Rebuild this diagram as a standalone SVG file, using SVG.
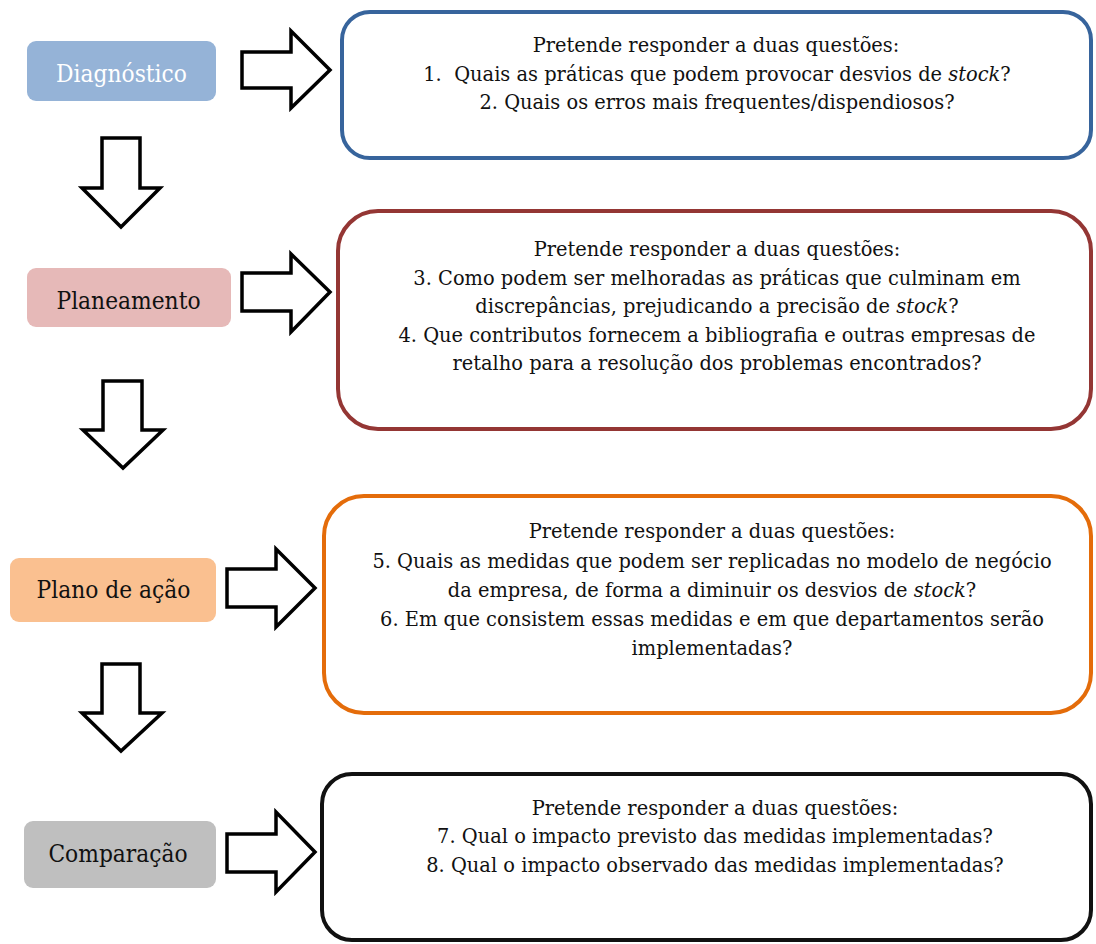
<svg xmlns="http://www.w3.org/2000/svg" width="1096" height="944" viewBox="0 0 1096 944">
<style>
.lbl{font-family:'DejaVu Serif','Liberation Serif',serif;font-size:24.5px;text-anchor:middle;fill:#111}
.q{font-family:'DejaVu Serif','Liberation Serif',serif;font-size:21px;text-anchor:middle;fill:#111}
.it{font-style:italic}
.arr{fill:#fff;stroke:#000;stroke-width:3.5;stroke-linejoin:miter}
.box{fill:#fff;stroke-width:4}
</style>
<rect width="1096" height="944" fill="#fff"/>
<g id="connectors">
<polygon class="arr" points="242,52 291,52 291,31 330,70 291,108 291,88 242,88"/>
<polygon class="arr" points="102,138 140,138 140,188 160,188 121,227 82,188 102,188"/>
<polygon class="arr" points="242,273 291,273 291,254 330,292 291,332 291,311 242,311"/>
<polygon class="arr" points="103,381 142,381 142,430 163,430 123,468 83,430 103,430"/>
<polygon class="arr" points="227,569 276,569 276,549 315,588 276,627 276,607 227,607"/>
<polygon class="arr" points="102,664 140,664 140,713 162,713 121,751 82,713 102,713"/>
<polygon class="arr" points="227,834 276,834 276,812 315,852 276,892 276,872 227,872"/>
</g>
<g id="diagnostico">
<rect x="27" y="41" width="189" height="60" rx="9" fill="#95b3d7"/>
<text class="lbl" transform="translate(121.5,82) scale(0.89,1)" style="fill:#fff">Diagnóstico</text>
</g>
<g id="planeamento">
<rect x="27" y="268" width="204" height="59" rx="9" fill="#e6b9b8"/>
<text class="lbl" transform="translate(128.5,309) scale(0.89,1)">Planeamento</text>
</g>
<g id="plano">
<rect x="10" y="558" width="206" height="64" rx="9" fill="#fac090"/>
<text class="lbl" transform="translate(113.5,598) scale(0.89,1)">Plano de ação</text>
</g>
<g id="comparacao">
<rect x="24" y="821" width="192" height="67" rx="9" fill="#bfbfbf"/>
<text class="lbl" transform="translate(118,862) scale(0.89,1)">Comparação</text>
</g>
<g id="q1">
<rect class="box" x="342" y="12" width="749" height="146" rx="28" stroke="#37649c"/>
<text class="q" transform="translate(716,52) scale(0.925,1)">Pretende responder a duas questões:</text>
<text class="q" transform="translate(717,81) scale(0.925,1)">1.&#160; Quais as práticas que podem provocar desvios de <tspan class="it">stock</tspan>?</text>
<text class="q" transform="translate(717,109) scale(0.925,1)">2. Quais os erros mais frequentes/dispendiosos?</text>
</g>
<g id="q2">
<rect class="box" x="338" y="211" width="753" height="218" rx="40" stroke="#943634"/>
<text class="q" transform="translate(717,256) scale(0.925,1)">Pretende responder a duas questões:</text>
<text class="q" transform="translate(717,285) scale(0.925,1)">3. Como podem ser melhoradas as práticas que culminam em</text>
<text class="q" transform="translate(717,313) scale(0.925,1)">discrepâncias, prejudicando a precisão de <tspan class="it">stock</tspan>?</text>
<text class="q" transform="translate(717,342) scale(0.925,1)">4. Que contributos fornecem a bibliografia e outras empresas de</text>
<text class="q" transform="translate(717,370) scale(0.925,1)">retalho para a resolução dos problemas encontrados?</text>
</g>
<g id="q3">
<rect class="box" x="324" y="496" width="767" height="217" rx="40" stroke="#e46c0a"/>
<text class="q" transform="translate(712,538) scale(0.925,1)">Pretende responder a duas questões:</text>
<text class="q" transform="translate(712,568) scale(0.925,1)">5. Quais as medidas que podem ser replicadas no modelo de negócio</text>
<text class="q" transform="translate(712,597) scale(0.925,1)">da empresa, de forma a diminuir os desvios de <tspan class="it">stock</tspan>?</text>
<text class="q" transform="translate(712,626) scale(0.925,1)">6. Em que consistem essas medidas e em que departamentos serão</text>
<text class="q" transform="translate(712,655) scale(0.925,1)">implementadas?</text>
</g>
<g id="q4">
<rect class="box" x="322" y="774" width="769" height="166" rx="30" stroke="#111"/>
<text class="q" transform="translate(715,815) scale(0.925,1)">Pretende responder a duas questões:</text>
<text class="q" transform="translate(715,843) scale(0.925,1)">7. Qual o impacto previsto das medidas implementadas?</text>
<text class="q" transform="translate(715,872) scale(0.925,1)">8. Qual o impacto observado das medidas implementadas?</text>
</g>
</svg>
